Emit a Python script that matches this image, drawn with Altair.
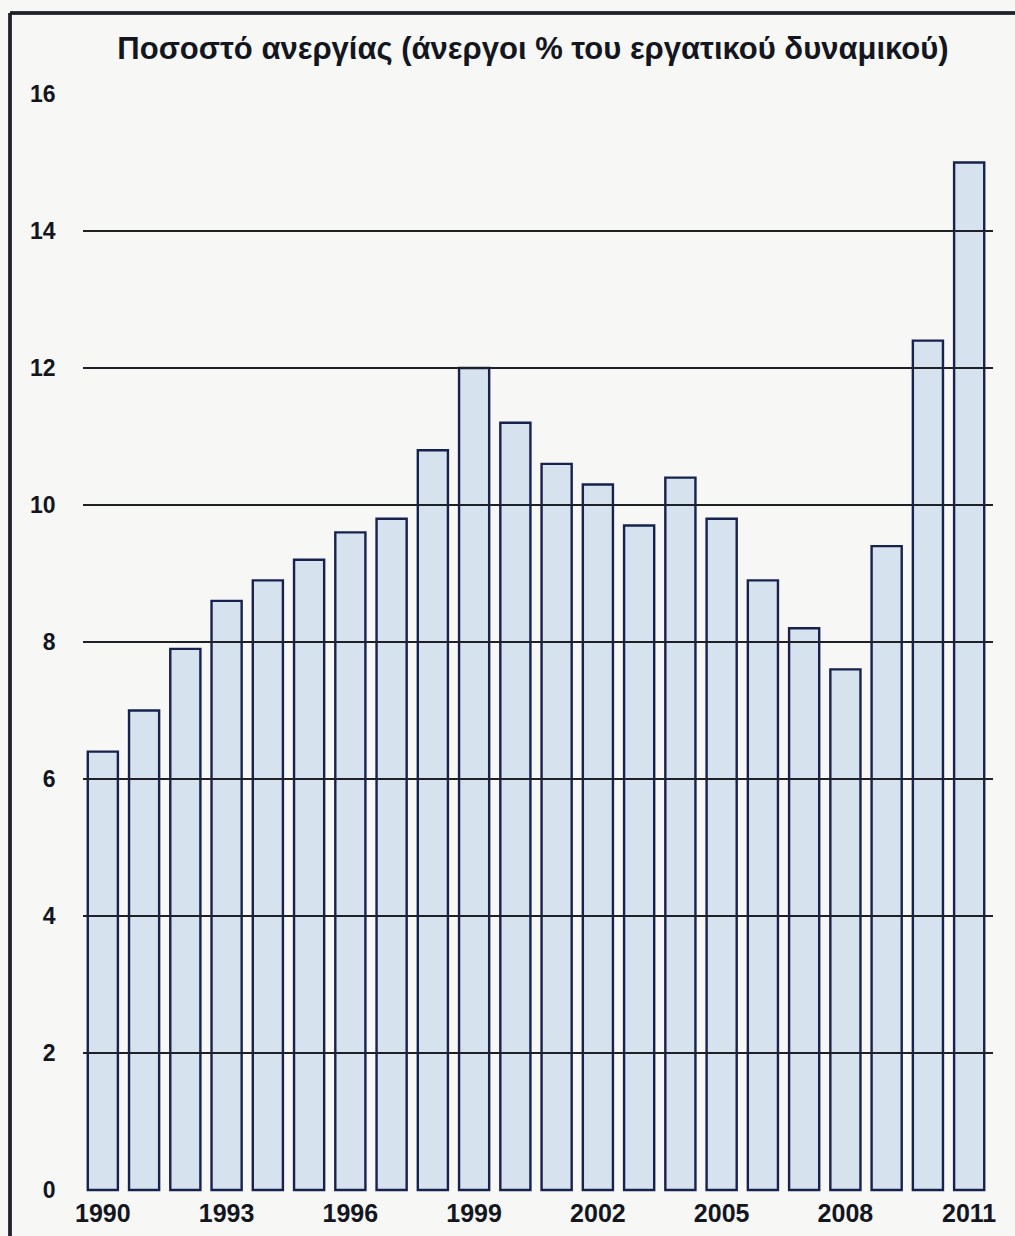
import altair as alt
import pandas as pd

# Unemployment rate, Greece (unemployed as % of labour force)
years = list(range(1990, 2012))
rates = [6.4, 7.0, 7.9, 8.6, 8.9, 9.2, 9.6, 9.8, 10.8, 12.0, 11.2,
         10.6, 10.3, 9.7, 10.4, 9.8, 8.9, 8.2, 7.6, 9.4, 12.4, 15.0]
label_years = [1990, 1993, 1996, 1999, 2002, 2005, 2008, 2011]
y_ticks = [0, 2, 4, 6, 8, 10, 12, 14, 16]
grid_levels = [2, 4, 6, 8, 10, 12, 14]

TITLE = "Ποσοστό ανεργίας (άνεργοι % του εργατικού δυναμικού)"
FONT = "Liberation Sans"
INK = "#14161f"

W, H = 908, 1096

df = pd.DataFrame({"year": years, "rate": rates})
grid_df = pd.DataFrame({"level": grid_levels})
title_df = pd.DataFrame({"t": [TITLE]})

x_enc = alt.X(
    "year:O",
    scale=alt.Scale(paddingInner=0.27, paddingOuter=0.14),
    axis=alt.Axis(
        values=label_years, title=None, labelAngle=0, ticks=False, domain=False,
        labelFont=FONT, labelFontSize=25, labelFontWeight="bold",
        labelColor=INK, labelPadding=11, grid=False,
    ),
)
y_enc = alt.Y(
    "rate:Q",
    scale=alt.Scale(domain=[0, 16], nice=False, zero=True),
    axis=alt.Axis(
        values=y_ticks, format="d", title=None, ticks=False, domain=False, grid=False,
        labelFont=FONT, labelFontSize=23, labelFontWeight="bold",
        labelColor=INK, labelPadding=27, labelAlign="right",
    ),
)

bars = alt.Chart(df).mark_bar(
    fill="#d7e2ef", stroke="#18224f", strokeWidth=2.4
).encode(x=x_enc, y=y_enc)

grid = alt.Chart(grid_df).mark_rule(color="#1e2128", strokeWidth=2).encode(
    y=alt.Y("level:Q", scale=alt.Scale(domain=[0, 16], nice=False)),
    x=alt.value(1),
    x2=alt.value(W + 3),
)

# chart heading, centred above the plot
heading = alt.Chart(title_df).mark_text(
    font=FONT, fontSize=31, fontWeight="bold", color=INK,
    align="center", baseline="alphabetic", clip=False,
).encode(text="t:N", x=alt.value(W / 2 - 3), y=alt.value(-35))

# outer frame of the figure (left and top borders)
frame_left = alt.Chart(grid_df).mark_rule(color="#1e2128", strokeWidth=2.5, clip=False).encode(
    x=alt.value(-72), y=alt.value(-81), y2=alt.value(H + 60)
)
frame_top = alt.Chart(grid_df).mark_rule(color="#1e2128", strokeWidth=2.5, clip=False).encode(
    x=alt.value(-72), x2=alt.value(W + 60), y=alt.value(-81)
)

chart = alt.layer(bars, grid, heading, frame_left, frame_top).properties(
    width=W,
    height=H,
    background="#f7f7f5",
    padding={"left": 82, "top": 94, "right": 25, "bottom": 46},
    autosize=alt.AutoSizeParams(type="none"),
).configure_view(stroke=None)

chart.save("out.html", embed_options={"renderer": "svg", "actions": False})
